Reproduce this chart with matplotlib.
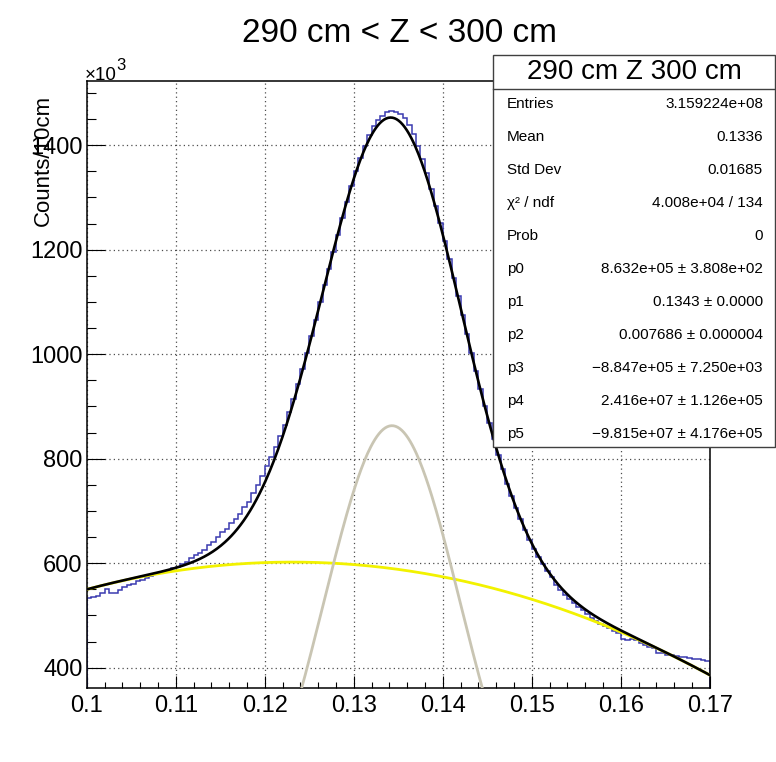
import numpy as np
import matplotlib
matplotlib.use('Agg')
import matplotlib.pyplot as plt
from matplotlib.patches import Rectangle
from matplotlib.lines import Line2D
from matplotlib.ticker import MultipleLocator, FuncFormatter

plt.rcParams['font.family'] = ['Liberation Sans', 'DejaVu Sans']

# histogram: 140 bins between 0.1 and 0.17, bin contents in units of 10^3
x_lo, x_hi, n_bins = 0.1, 0.17, 140
counts = [
    533, 536, 537, 542, 550, 543, 542, 549, 554, 558,
    561, 565, 568, 572, 576, 579, 582, 584, 587, 590,
    593, 598, 603, 609, 615, 620, 626, 634, 641, 651,
    659, 666, 676, 685, 694, 707, 718, 734, 749, 767,
    786, 804, 823, 844, 865, 889, 915, 943, 972, 1003,
    1035, 1066, 1100, 1132, 1164, 1196, 1229, 1261, 1292, 1322,
    1350, 1376, 1399, 1420, 1437, 1449, 1456, 1464, 1466, 1463,
    1460, 1452, 1439, 1421, 1399, 1374, 1346, 1316, 1284, 1251,
    1217, 1182, 1146, 1111, 1075, 1039, 1002, 968, 934, 900,
    868, 837, 807, 780, 752, 728, 706, 685, 664, 645,
    628, 612, 598, 585, 573, 559, 549, 540, 531, 524,
    516, 510, 503, 495, 490, 484, 479, 475, 470, 466,
    454, 453, 455, 452, 448, 444, 440, 437, 428, 428,
    424, 425, 422, 421, 420, 418, 417, 416, 414, 413,
]

# fit result: gaus(p0, p1, p2) + pol2(p3, p4, p5)
p0, p1, p2 = 8.632e5, 0.1343, 0.007686
p3, p4, p5 = -8.847e5, 2.416e7, -9.815e7

title = '290 cm < Z < 300 cm'
stat_title = '290 cm Z 300 cm'
stat_labels = ['Entries', 'Mean', 'Std Dev', 'χ² / ndf', 'Prob',
               'p0', 'p1', 'p2', 'p3', 'p4', 'p5']
stat_values = ['3.159224e+08', '0.1336', '0.01685', '4.008e+04 / 134', '0',
               '8.632e+05 ± 3.808e+02', '0.1343 ± 0.0000',
               '0.007686 ± 0.000004', '−8.847e+05 ± 7.250e+03',
               '2.416e+07 ± 1.126e+05', '−9.815e+07 ± 4.176e+05']

W, H = 776, 762
fig = plt.figure(figsize=(W / 100, H / 100), dpi=100)
ax = fig.add_axes([86.7 / W, 1 - 688.3 / H, 623 / W, 607.3 / H])

edges = np.linspace(x_lo, x_hi, n_bins + 1)
ax.stairs(np.array(counts), edges, color='#3a3ab0', linewidth=1.1, zorder=2)

xs = np.linspace(x_lo, x_hi, 600)
gaus = p0 * np.exp(-0.5 * ((xs - p1) / p2) ** 2) / 1e3
bkg = (p3 + p4 * xs + p5 * xs ** 2) / 1e3
ax.plot(xs, bkg, color='#f2f200', linewidth=2.0, zorder=3)
ax.plot(xs, gaus, color='#c9c5b3', linewidth=2.0, zorder=3)
ax.plot(xs, gaus + bkg, color='black', linewidth=1.9, zorder=4)

ax.set_xlim(x_lo, x_hi)
ax.set_ylim(360.5, 1523)

ax.xaxis.set_major_locator(MultipleLocator(0.01))
ax.xaxis.set_minor_locator(MultipleLocator(0.002))
ax.yaxis.set_major_locator(MultipleLocator(200))
ax.yaxis.set_minor_locator(MultipleLocator(50))
ax.xaxis.set_major_formatter(FuncFormatter(lambda v, _: f'{v:g}'))
ax.yaxis.set_major_formatter(FuncFormatter(lambda v, _: f'{v:.0f}'))

ax.tick_params(axis='both', which='both', direction='in', width=0.8,
               labelsize=17, top=False, right=False)
ax.tick_params(axis='x', which='major', length=8.6, pad=5)
ax.tick_params(axis='x', which='minor', length=4.3)
ax.tick_params(axis='y', which='major', length=13, pad=3)
ax.tick_params(axis='y', which='minor', length=6.5)
ax.grid(which='major', color='0.3', linestyle=(0, (1, 2.5)), linewidth=0.9)
for s in ax.spines.values():
    s.set_linewidth(1.1)

fig.text(400 / W, 1 - 33 / H, title, ha='center', va='center', fontsize=24)
fig.text(43 / W, 1 - 95 / H, 'Counts/10cm', rotation=90,
         ha='center', va='top', fontsize=16)
fig.text(85 / W, 1 - 80 / H, '×10', ha='left', va='baseline', fontsize=13.5)
fig.text(116 / W, 1 - 70 / H, '3', ha='left', va='baseline', fontsize=12)

# stats box on top of the pad
bx0, bx1, by0, by1 = 493, 775, 55, 447
fig.patches.append(Rectangle((bx0 / W, 1 - by1 / H), (bx1 - bx0) / W,
                             (by1 - by0) / H, transform=fig.transFigure,
                             facecolor='white', edgecolor='0.25',
                             linewidth=1.0, zorder=5))
fig.lines.append(Line2D([bx0 / W, bx1 / W], [1 - 89 / H, 1 - 89 / H],
                        transform=fig.transFigure, color='0.25',
                        linewidth=1.0, zorder=6))
fig.text((bx0 + bx1) / 2 / W, 1 - 72 / H, stat_title, ha='center',
         va='center', fontsize=20, zorder=7)
for i, (lab, val) in enumerate(zip(stat_labels, stat_values)):
    y = 1 - (104 + 33 * i) / H
    fig.text(507 / W, y, lab, ha='left', va='center', fontsize=11, zorder=7)
    fig.text(763 / W, y, val, ha='right', va='center', fontsize=11, zorder=7)

fig.savefig('out.png', dpi=100, facecolor='white')
